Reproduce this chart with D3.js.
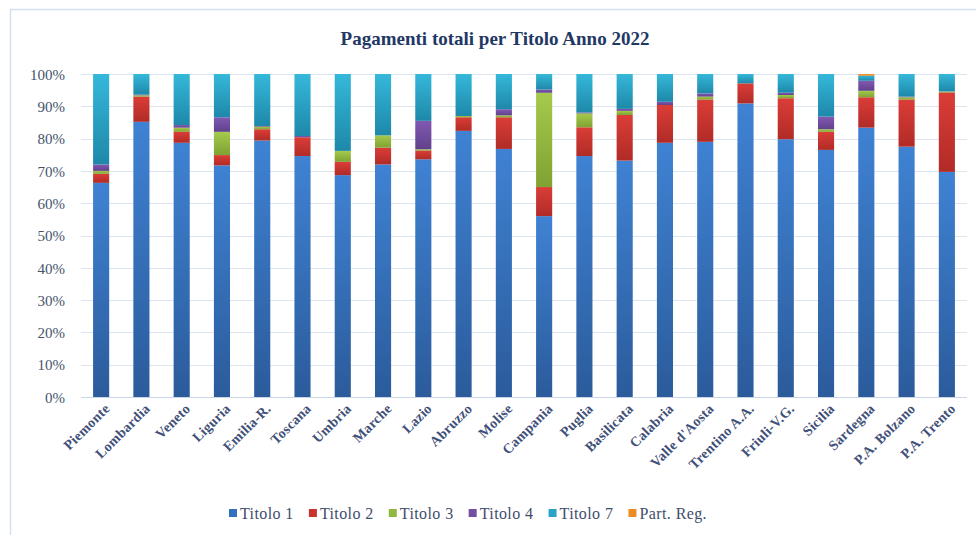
<!DOCTYPE html>
<html><head><meta charset="utf-8">
<script src="https://cdn.jsdelivr.net/npm/d3@7"></script>
<style>html,body{margin:0;padding:0;background:#fff;}svg{display:block;}
svg text{font-family:"Liberation Serif","DejaVu Serif",serif !important;}</style>
</head><body>
<script>
const categories = ["Piemonte","Lombardia","Veneto","Liguria","Emilia-R.","Toscana","Umbria","Marche","Lazio","Abruzzo","Molise","Campania","Puglia","Basilicata","Calabria","Valle d'Aosta","Trentino A.A.","Friuli-V.G.","Sicilia","Sardegna","P.A. Bolzano","P.A. Trento"];
const titolo1 = [66.3,85.2,78.7,71.7,79.4,74.6,68.7,72.0,73.6,82.4,76.8,56.0,74.6,73.2,78.7,79.0,90.9,79.8,76.5,83.4,77.5,69.7];
const titolo2 = [2.8,7.8,3.4,3.2,3.5,5.8,4.1,5.2,2.7,4.2,9.8,9.0,8.9,14.1,11.7,13.1,6.2,12.7,5.6,9.4,14.6,24.6];
const titolo3 = [0.9,0.4,1.3,7.2,0.8,0.0,3.4,3.8,0.4,0.4,0.6,29.2,4.3,1.3,0.0,0.9,0.0,1.0,0.8,2.0,0.7,0.3];
const titolo4 = [2.0,0.2,0.8,4.5,0.2,0.4,0.0,0.0,8.8,0.0,1.9,1.0,0.3,0.6,1.0,1.0,0.0,0.7,3.9,3.1,0.2,0.0];
const titolo7 = [28.0,6.4,15.8,13.4,16.1,19.2,23.8,19.0,14.5,13.0,10.9,4.8,11.9,10.8,8.6,6.0,2.9,5.8,13.2,1.6,7.0,5.4];
const partReg = [0,0,0,0,0,0,0,0,0,0,0,0,0,0,0,0,0,0,0,0.5,0,0];
const seriesNames = ["Titolo 1","Titolo 2","Titolo 3","Titolo 4","Titolo 7","Part. Reg."];
const yTicks = [0,10,20,30,40,50,60,70,80,90,100];

const W = 976, H = 535;
const seriesData = [titolo1,titolo2,titolo3,titolo4,titolo7,partReg];
const colorsTop = ["#3f82d3","#db3d37","#a6ca4c","#8259b2","#35b8da","#f59d32"];
const colorsBot = ["#2b5b9b","#b12b27","#7fa232","#60418c","#1e88a9","#e07b12"];
const legendColors = ["#3570c0","#c8332e","#92b840","#7050a0","#2aa3c6","#ee8a22"];

const rows = categories.map((c,i)=>{const o={cat:c}; seriesNames.forEach((s,k)=>o[s]=seriesData[k][i]); return o;});
const stack = d3.stack().keys(seriesNames)(rows);

const svg = d3.select("body").append("svg").attr("width",W).attr("height",H);
const defs = svg.append("defs");
seriesNames.forEach((s,k)=>{
  const g = defs.append("linearGradient").attr("id","g"+k).attr("x1",0).attr("y1",0).attr("x2",0).attr("y2",1);
  g.append("stop").attr("offset","0%").attr("stop-color",colorsTop[k]);
  g.append("stop").attr("offset","100%").attr("stop-color",colorsBot[k]);
});

// frame
svg.append("path").attr("d",`M10.5,${H}V9.5H${W}`).attr("fill","none").attr("stroke","#d3e0f0").attr("stroke-width",1.5);

const x = d3.scaleBand().domain(categories).range([81,967]).paddingInner(0.6).paddingOuter(0.3);
const y = d3.scaleLinear().domain([0,100]).range([397,74]);

// gridlines
svg.append("g").selectAll("line").data(yTicks).join("line")
  .attr("x1",81).attr("x2",967).attr("y1",d=>Math.round(y(d))+0.5).attr("y2",d=>Math.round(y(d))+0.5)
  .attr("stroke",d=>d===0?"#c9d6e8":"#dde5f0").attr("stroke-width",1);

// bars
svg.append("g").selectAll("g").data(stack).join("g")
  .attr("fill",(d,k)=>`url(#g${k})`)
  .selectAll("rect").data(d=>d).join("rect")
  .attr("x",d=>x(d.data.cat)).attr("width",x.bandwidth())
  .attr("y",d=>y(d[1])).attr("height",d=>Math.max(0,y(d[0])-y(d[1])));

// y axis labels
const yAxis = d3.axisLeft(y).tickValues(yTicks).tickFormat(d=>d+"%").tickSize(0).tickPadding(0);
const ya = svg.append("g").attr("transform","translate(65,0)").call(yAxis);
ya.select(".domain").remove();
ya.selectAll("text").attr("font-size",15).attr("fill","#44546a").attr("dy","0.35em");

// x axis labels
const xAxis = d3.axisBottom(x).tickSize(0).tickPadding(0);
const xa = svg.append("g").attr("transform","translate(0,406)").call(xAxis);
xa.select(".domain").remove();
xa.selectAll("text").attr("font-size",14).attr("font-weight","bold").attr("letter-spacing","0.3px")
  .attr("fill","#3f5079").attr("text-anchor","end").attr("dy","0.35em")
  .attr("transform","translate(6,0) rotate(-45)");

// title
svg.append("text").attr("x",495).attr("y",45).attr("text-anchor","middle")
  .attr("font-size",19).attr("font-weight","bold")
  .attr("fill","#1f3864").text("Pagamenti totali per Titolo Anno 2022");

// legend (laid out from measured text widths between x=229 and x=707)
const leg = svg.append("g").selectAll("g").data(seriesNames).join("g");
leg.append("rect").attr("x",0).attr("y",-4).attr("width",8).attr("height",8).attr("fill",(d,i)=>legendColors[i]);
leg.append("text").attr("x",11).attr("y",0).attr("dy","0.35em").attr("letter-spacing","0.4px")
  .attr("font-size",16).attr("fill","#3f4d6d").text(d=>d);
const widths = [];
leg.select("text").each(function(){widths.push(11 + this.getComputedTextLength());});
const total = d3.sum(widths);
const gap = (707 - 229 - total) / (seriesNames.length - 1);
let cx = 229;
leg.each(function(d,i){ d3.select(this).attr("transform",`translate(${cx},513)`); cx += widths[i] + gap; });
</script>
</body></html>
